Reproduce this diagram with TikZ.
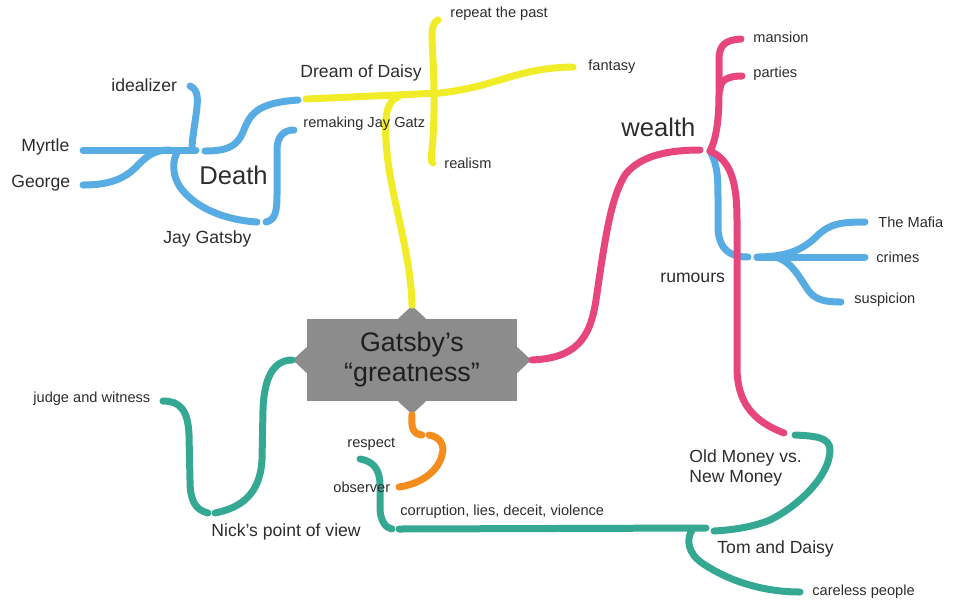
\documentclass[tikz,border=0pt]{standalone}
\usepackage{fontspec}
\setmainfont{Liberation Sans}
\usetikzlibrary{shapes.geometric}
\definecolor{mapblue}{RGB}{88,172,228}
\definecolor{mapyellow}{RGB}{240,236,40}
\definecolor{mappink}{RGB}{230,70,125}
\definecolor{mapteal}{RGB}{53,168,148}
\definecolor{maporange}{RGB}{245,140,30}
\definecolor{hubgray}{RGB}{140,140,140}
\definecolor{maptext}{RGB}{45,45,45}
\begin{document}
\begin{tikzpicture}[x=0.5pt,y=-0.5pt,
    branch/.style={line width=3.5pt,line cap=round},
    small/.style={font=\fontsize{7.3}{9}\selectfont,text=maptext,inner sep=0pt,anchor=west},
    medium/.style={font=\fontsize{8.8}{10}\selectfont,text=maptext,inner sep=0pt,anchor=west},
    large/.style={font=\fontsize{12.8}{14}\selectfont,text=maptext,inner sep=0pt,anchor=west},
    hub/.style={fill=hubgray,minimum width=105pt,minimum height=41pt,inner sep=0pt,
      align=center,font=\fontsize{13.4}{15}\selectfont,text=black!88},
    hubtab/.style={diamond,fill=hubgray,inner sep=0pt,minimum width=14pt,minimum height=13pt}]
  \useasboundingbox (0,0) rectangle (955,602);
  \node[hub] (hub) at (412,360) {Gatsby’s\\“greatness”};
  \node[hubtab] (tab-n) at (hub.north) {};
  \node[hubtab] (tab-s) at (hub.south) {};
  \node[hubtab] (tab-e) at (hub.east) {};
  \node[hubtab] (tab-w) at (hub.west) {};

  \coordinate (dream-join) at (398,97);
  \coordinate (dream-start) at (306,99);
  \coordinate (fantasy-end) at (573,67);
  \coordinate (repeat-end) at (438,20);
  \coordinate (realism-end) at (433,163);
  \coordinate (daisy-link) at (298,100);
  \coordinate (death-link) at (205,151);
  \coordinate (myrtle-end) at (83,150);
  \coordinate (death-end) at (196,150);
  \coordinate (george-end) at (83,185);
  \coordinate (death-join) at (170,150);
  \coordinate (ideal-end) at (190,86);
  \coordinate (gatsby-start) at (178,151);
  \coordinate (gatsby-end) at (257,222);
  \coordinate (gatz-start) at (266,222);
  \coordinate (gatz-end) at (294,130);
  \coordinate (wealth-end) at (700,150);
  \coordinate (wealth-fork) at (710,151);
  \coordinate (mansion-end) at (741,39);
  \coordinate (parties-fork) at (720,90);
  \coordinate (parties-end) at (742,76);
  \coordinate (money-end) at (784,433);
  \coordinate (rumours-end) at (748,257);
  \coordinate (rumours-fork) at (757,257);
  \coordinate (mafia-end) at (865,222);
  \coordinate (crimes-end) at (865,257);
  \coordinate (suspicion-fork) at (775,257);
  \coordinate (suspicion-end) at (841,302);
  \coordinate (money-start) at (795,435);
  \coordinate (tom-end) at (714,531);
  \coordinate (corr-end) at (706,528);
  \coordinate (corr-start) at (399,529);
  \coordinate (tom-fork) at (692,530);
  \coordinate (careless-end) at (800,592);
  \coordinate (respect-end) at (360,459);
  \coordinate (respect-join) at (392,529);
  \coordinate (nick-end) at (215,513);
  \coordinate (judge-start) at (208,513);
  \coordinate (judge-end) at (163,401);
  \coordinate (observer-fork) at (422,435);
  \coordinate (observer-start) at (429,435);
  \coordinate (observer-end) at (399,487);

  \begin{scope}[branch,mapyellow]
    \draw (tab-n.north) .. controls (411,250) and (388,190) .. (386,140)
      .. controls (384,115) and (388,100) .. (dream-join);
    \draw (dream-start) -- (440,93) .. controls (500,86) and (515,68) .. (fantasy-end);
    \draw (repeat-end) .. controls (430,24) and (432,36) .. (433,60)
      .. controls (435,100) and (434,130) .. (432,150)
      .. controls (431,158) and (431,162) .. (realism-end);
  \end{scope}
  \begin{scope}[branch,mapblue]
    \draw (daisy-link) .. controls (255,103) and (250,115) .. (243,132)
      .. controls (237,147) and (226,151) .. (death-link);
    \draw (myrtle-end) -- (death-end);
    \draw (george-end) .. controls (115,185) and (128,176) .. (140,163)
      .. controls (150,153) and (158,150) .. (death-join);
    \draw (ideal-end) .. controls (199,90) and (198,100) .. (196,115)
      .. controls (194,130) and (192,140) .. (192,150);
    \draw (gatsby-start) .. controls (172,160) and (172,175) .. (180,187)
      .. controls (195,208) and (225,220) .. (gatsby-end);
    \draw (gatz-start) .. controls (275,220) and (277,212) .. (277,195)
      -- (277,150) .. controls (277,135) and (285,130) .. (gatz-end);
    \draw (wealth-fork) .. controls (718,165) and (718,180) .. (718,200)
      -- (718,230) .. controls (720,250) and (730,257) .. (rumours-end);
    \draw (rumours-fork) -- (crimes-end);
    \draw (rumours-fork) .. controls (790,257) and (805,248) .. (818,235)
      .. controls (830,224) and (840,222) .. (mafia-end);
    \draw (suspicion-fork) .. controls (790,260) and (798,275) .. (808,290)
      .. controls (815,300) and (825,302) .. (suspicion-end);
  \end{scope}
  \begin{scope}[branch,mappink]
    \draw (tab-e.east) .. controls (575,358) and (590,340) .. (596,300)
      .. controls (605,240) and (610,200) .. (625,175)
      .. controls (640,155) and (670,150) .. (wealth-end);
    \draw (wealth-fork) .. controls (716,140) and (719,120) .. (719,95)
      -- (719,60) .. controls (719,45) and (725,40) .. (mansion-end);
    \draw (parties-fork) .. controls (720,80) and (728,76) .. (parties-end);
    \draw (wealth-fork) .. controls (730,160) and (737,180) .. (737,220)
      -- (737,370) .. controls (738,400) and (750,420) .. (money-end);
  \end{scope}
  \begin{scope}[branch,mapteal]
    \draw (money-start) .. controls (815,436) and (830,437) .. (830,450)
      .. controls (830,475) and (800,505) .. (770,520)
      .. controls (750,528) and (730,530) .. (tom-end);
    \draw (corr-start) -- (corr-end);
    \draw (tom-fork) .. controls (686,540) and (688,553) .. (702,563)
      .. controls (730,582) and (765,592) .. (careless-end);
    \draw (respect-end) .. controls (372,461) and (380,468) .. (380,485)
      -- (380,510) .. controls (381,522) and (386,528) .. (respect-join);
    \draw (tab-w.west) .. controls (275,360) and (264,375) .. (263,410)
      -- (262,460) .. controls (260,495) and (240,508) .. (nick-end);
    \draw (judge-start) .. controls (195,510) and (190,500) .. (190,480)
      -- (189,435) .. controls (188,410) and (180,401) .. (judge-end);
  \end{scope}
  \begin{scope}[branch,maporange]
    \draw (tab-s.south) .. controls (411,428) and (413,434) .. (observer-fork);
    \draw (observer-start) .. controls (440,437) and (445,445) .. (442,455)
      .. controls (438,472) and (420,484) .. (observer-end);
  \end{scope}

  \node[medium] (dream) at (300,73) {Dream of Daisy};
  \node[small] (repeat) at (450,14) {repeat the past};
  \node[small] (fantasy) at (588,67) {fantasy};
  \node[small] (realism) at (444,163) {realism};
  \node[small] (gatz) at (303,124) {remaking Jay Gatz};
  \node[medium] (idealizer) at (111,85) {idealizer};
  \node[medium] (myrtle) at (21,147) {Myrtle};
  \node[medium] (george) at (11,183) {George};
  \node[large] (death) at (199,175) {Death};
  \node[medium] (gatsby) at (163,239) {Jay Gatsby};
  \node[large] (wealth) at (621,127) {wealth};
  \node[small] (mansion) at (753,37) {mansion};
  \node[small] (parties) at (753,74) {parties};
  \node[medium] (rumours) at (660,278) {rumours};
  \node[small] (mafia) at (878,222) {The Mafia};
  \node[small] (crimes) at (876,257) {crimes};
  \node[small] (suspicion) at (854,300) {suspicion};
  \node[small] (judge) at (33,399) {judge and witness};
  \node[medium] (nick) at (211,532) {Nick’s point of view};
  \node[small] (respect) at (347,444) {respect};
  \node[small] (observer) at (333,487) {observer};
  \node[small] (corruption) at (400,512) {corruption, lies, deceit, violence};
  \node[medium,align=left,font=\fontsize{8.8}{10.2}\selectfont] (money) at (689,468) {Old Money vs.\\New Money};
  \node[medium] (tom) at (717,549) {Tom and Daisy};
  \node[small] (careless) at (812,592) {careless people};
\end{tikzpicture}
\end{document}
